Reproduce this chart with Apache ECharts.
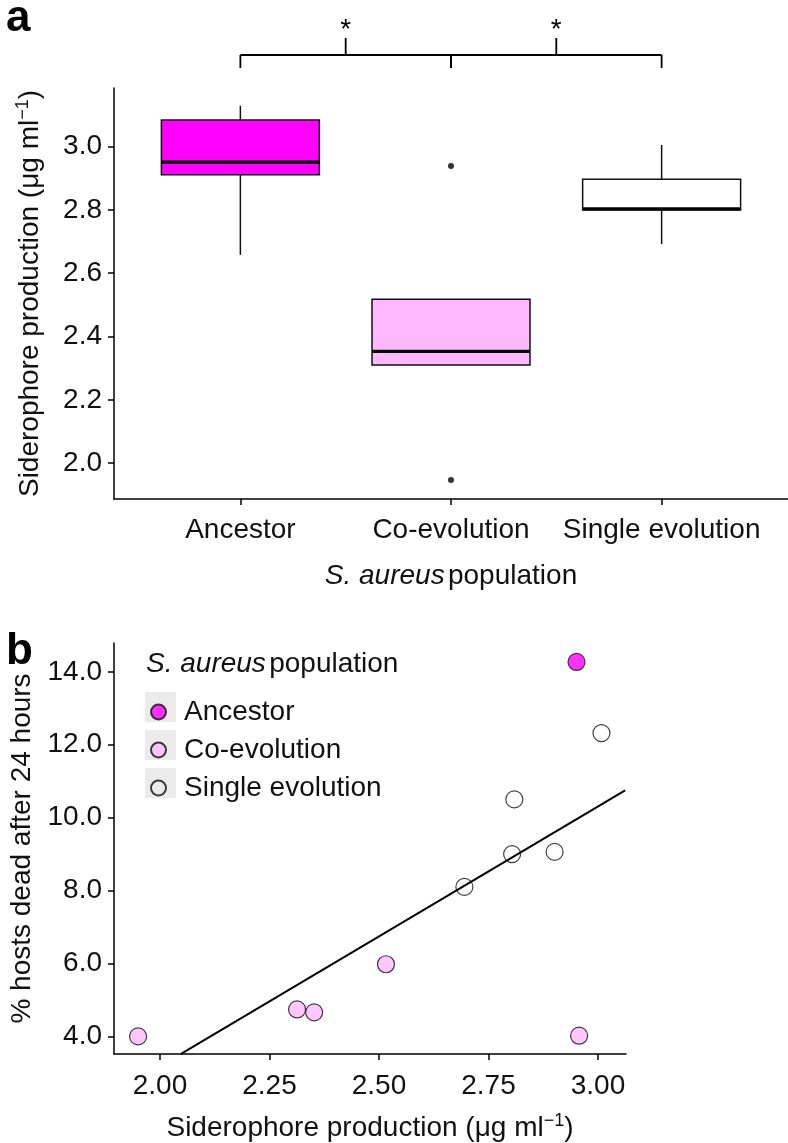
<!DOCTYPE html>
<html>
<head>
<meta charset="utf-8">
<script src="https://cdn.jsdelivr.net/npm/echarts@6/dist/echarts.min.js"></script>
<style>
html,body{margin:0;padding:0;background:#fff;}
#main{width:788px;height:1143px;}
</style>
</head>
<body>
<div id="main"></div>
<script>
// ---------- Panel a data ----------
const categories = ['Ancestor', 'Co-evolution', 'Single evolution'];
const boxLow    = [2.658, 2.310, 2.692];
const boxQ1     = [2.911, 2.310, 2.800];
const boxMedian = [2.951, 2.353, 2.803];
const boxQ3     = [3.084, 2.518, 2.897];
const boxHigh   = [3.129, 2.518, 3.005];
const boxFill   = ['#ff00ff', '#ffb8ff', '#ffffff'];
const outlierCategory = ['Co-evolution', 'Co-evolution'];
const outlierValues   = [2.939, 1.947];
const yTicksA = [2.0, 2.2, 2.4, 2.6, 2.8, 3.0];
const comparisons = [['Ancestor', 'Co-evolution'], ['Co-evolution', 'Single evolution']];
const comparisonLabels = ['*', '*'];

// ---------- Panel b data ----------
const ancestorX = [2.951];
const ancestorY = [14.27];
const coevoX = [1.950, 2.313, 2.352, 2.516, 2.957];
const coevoY = [4.00, 4.74, 4.66, 5.98, 4.02];
const singleX = [2.695, 2.804, 2.809, 2.901, 3.008];
const singleY = [8.10, 9.00, 10.50, 9.06, 12.32];
const fitX = [2.048, 3.062];
const fitY = [3.52, 10.75];
const xTicksB = [2.00, 2.25, 2.50, 2.75, 3.00];
const yTicksB = [4, 6, 8, 10, 12, 14];
const legendNames = ['Ancestor', 'Co-evolution', 'Single evolution'];

const FONT = '"Liberation Sans", Arial, Helvetica, sans-serif';
const INK = '#111';
const catPos = c => categories.indexOf(c) + 1;

const boxData = categories.map((c, i) => [i + 1, boxLow[i], boxQ1[i], boxMedian[i], boxQ3[i], boxHigh[i], i]);
const outlierData = outlierCategory.map((c, i) => [catPos(c), outlierValues[i]]);
const zip = (xs, ys) => xs.map((x, i) => [x, ys[i]]);

const axisLineStyle = { color: '#000', width: 1.5 };
const labelStyle = { fontFamily: FONT, fontSize: 28, color: INK };

const chart = echarts.init(document.getElementById('main'), null, { renderer: 'canvas' });

const option = {
  backgroundColor: '#fff',
  animation: false,
  textStyle: { fontFamily: FONT },
  grid: [
    { left: 114, top: 88, width: 674, height: 411 },
    { left: 114, top: 643, width: 512, height: 411 }
  ],
  xAxis: [
    {
      gridIndex: 0, type: 'value', min: 0.4, max: 3.6,
      axisLine: { show: true, lineStyle: axisLineStyle },
      axisTick: { show: true, customValues: [1, 2, 3], length: 6, lineStyle: axisLineStyle },
      axisLabel: Object.assign({ customValues: [1, 2, 3], margin: 17,
        formatter: v => categories[Math.round(v) - 1] || '' }, labelStyle),
      splitLine: { show: false },
      name: '{i|S. aureus} {n|population}',
      nameLocation: 'middle', nameGap: 63,
      nameTextStyle: { rich: {
        i: { fontFamily: FONT, fontSize: 28, fontStyle: 'italic', color: INK },
        n: { fontFamily: FONT, fontSize: 28, color: INK } } }
    },
    {
      gridIndex: 1, type: 'value', min: 1.895, max: 3.064,
      axisLine: { show: true, lineStyle: axisLineStyle },
      axisTick: { show: true, customValues: xTicksB, length: 6, lineStyle: axisLineStyle },
      axisLabel: Object.assign({ customValues: xTicksB, margin: 18,
        formatter: v => v.toFixed(2) }, labelStyle),
      splitLine: { show: false },
      name: '{a|Siderophore production (μg ml}{s|−1}{a|)}',
      nameLocation: 'middle', nameGap: 58,
      nameTextStyle: { rich: {
        a: { fontFamily: FONT, fontSize: 28, color: INK, lineHeight: 32 },
        s: { fontFamily: FONT, fontSize: 18, color: INK, verticalAlign: 'top', lineHeight: 32 } } }
    }
  ],
  yAxis: [
    {
      gridIndex: 0, type: 'value', min: 1.887, max: 3.185,
      axisLine: { show: true, lineStyle: axisLineStyle },
      axisTick: { show: true, customValues: yTicksA, length: 6, lineStyle: axisLineStyle },
      axisLabel: Object.assign({ customValues: yTicksA, margin: 12,
        formatter: v => v.toFixed(1) }, labelStyle),
      splitLine: { show: false },
      name: '{a|Siderophore production (μg ml}{s|−1}{a|)}',
      nameLocation: 'middle', nameRotate: 90, nameGap: 68,
      nameTextStyle: { rich: {
        a: { fontFamily: FONT, fontSize: 28, color: INK, lineHeight: 32 },
        s: { fontFamily: FONT, fontSize: 18, color: INK, verticalAlign: 'top', lineHeight: 32 } } }
    },
    {
      gridIndex: 1, type: 'value', min: 3.518, max: 14.79,
      axisLine: { show: true, lineStyle: axisLineStyle },
      axisTick: { show: true, customValues: yTicksB, length: 6, lineStyle: axisLineStyle },
      axisLabel: Object.assign({ customValues: yTicksB, margin: 12,
        formatter: v => v.toFixed(1) }, labelStyle),
      splitLine: { show: false },
      name: '% hosts dead after 24 hours',
      nameLocation: 'middle', nameRotate: 90, nameGap: 68,
      nameTextStyle: { fontFamily: FONT, fontSize: 28, color: INK }
    }
  ],
  legend: {
    data: legendNames,
    orient: 'vertical',
    left: 145, top: 693,
    itemWidth: 31, itemHeight: 15, itemGap: 10,
    icon: 'circle',
    textStyle: { fontFamily: FONT, fontSize: 28, color: INK, lineHeight: 28, padding: [0, 0, 0, 5] },
    selectedMode: false
  },
  graphic: [
    { type: 'text', left: 6, top: -3, style: { text: 'a', font: 'bold 44px ' + FONT, fill: '#000' } },
    { type: 'text', left: 6, top: 630, style: { text: 'b', font: 'bold 44px ' + FONT, fill: '#000' } },
    { type: 'text', left: 146, top: 650, style: {
        text: '{i|S. aureus} {n|population}',
        rich: { i: { fontFamily: FONT, fontSize: 28, fontStyle: 'italic', fill: INK },
                n: { fontFamily: FONT, fontSize: 28, fill: INK } } } },
    { type: 'rect', z: -1, shape: { x: 145, y: 692, width: 31, height: 30 }, style: { fill: '#ebebeb' } },
    { type: 'rect', z: -1, shape: { x: 145, y: 730, width: 31, height: 30 }, style: { fill: '#ebebeb' } },
    { type: 'rect', z: -1, shape: { x: 145, y: 768, width: 31, height: 30 }, style: { fill: '#ebebeb' } }
  ],
  series: [
    {
      type: 'custom', name: 'box', xAxisIndex: 0, yAxisIndex: 0,
      data: boxData,
      encode: { x: 0, y: [1, 2, 3, 4, 5] },
      renderItem: function (params, api) {
        const x = api.value(0);
        const half = api.size([0.375, 0])[0];
        const pLow = api.coord([x, api.value(1)]);
        const pQ1 = api.coord([x, api.value(2)]);
        const pMed = api.coord([x, api.value(3)]);
        const pQ3 = api.coord([x, api.value(4)]);
        const pHigh = api.coord([x, api.value(5)]);
        const fill = boxFill[api.value(6)];
        const stroke = { stroke: '#111', lineWidth: 1.5 };
        return {
          type: 'group',
          children: [
            { type: 'line', shape: { x1: pLow[0], y1: pLow[1], x2: pQ1[0], y2: pQ1[1] }, style: stroke },
            { type: 'line', shape: { x1: pQ3[0], y1: pQ3[1], x2: pHigh[0], y2: pHigh[1] }, style: stroke },
            { type: 'rect', shape: { x: pQ3[0] - half, y: pQ3[1], width: half * 2, height: pQ1[1] - pQ3[1] },
              style: { fill: fill, stroke: '#111', lineWidth: 1.5 } },
            { type: 'line', shape: { x1: pMed[0] - half, y1: pMed[1], x2: pMed[0] + half, y2: pMed[1] },
              style: { stroke: '#000', lineWidth: 3.2 } }
          ]
        };
      }
    },
    {
      type: 'scatter', name: 'outliers', xAxisIndex: 0, yAxisIndex: 0,
      data: outlierData, symbolSize: 6, itemStyle: { color: '#000' }
    },
    {
      type: 'custom', name: 'brackets', xAxisIndex: 0, yAxisIndex: 0, clip: false,
      data: [[2, 3.0]],
      renderItem: function (params, api) {
        const gridTop = api.coord([1, 3.185])[1];
        const yBar = gridTop - 33, yTickEnd = gridTop - 20, yStem = gridTop - 50, yStar = gridTop - 44;
        const children = [];
        const st = { stroke: '#000', lineWidth: 1.8 };
        comparisons.forEach((cmp, i) => {
          const x1 = api.coord([catPos(cmp[0]), 3])[0];
          const x2 = api.coord([catPos(cmp[1]), 3])[0];
          const xm = (x1 + x2) / 2;
          children.push({ type: 'line', shape: { x1: x1, y1: yBar, x2: x2, y2: yBar }, style: st });
          children.push({ type: 'line', shape: { x1: x1, y1: yBar, x2: x1, y2: yTickEnd }, style: st });
          children.push({ type: 'line', shape: { x1: x2, y1: yBar, x2: x2, y2: yTickEnd }, style: st });
          children.push({ type: 'line', shape: { x1: xm, y1: yBar, x2: xm, y2: yStem }, style: st });
          children.push({ type: 'text', style: { text: comparisonLabels[i], x: xm, y: yStar,
            align: 'center', verticalAlign: 'bottom', font: '28px ' + FONT, fill: '#000' } });
        });
        return { type: 'group', children: children };
      }
    },
    {
      type: 'line', name: 'fit', xAxisIndex: 1, yAxisIndex: 1,
      data: zip(fitX, fitY), showSymbol: false, symbol: 'none', clip: true,
      lineStyle: { color: '#000', width: 2 }, z: 1
    },
    {
      type: 'scatter', name: 'Ancestor', xAxisIndex: 1, yAxisIndex: 1,
      data: zip(ancestorX, ancestorY), symbolSize: 17, z: 3,
      itemStyle: { color: '#ff00ff', borderColor: '#111', borderWidth: 1.2 }
    },
    {
      type: 'scatter', name: 'Co-evolution', xAxisIndex: 1, yAxisIndex: 1,
      data: zip(coevoX, coevoY), symbolSize: 17, z: 3,
      itemStyle: { color: '#ffb8ff', borderColor: '#111', borderWidth: 1.2 }
    },
    {
      type: 'scatter', name: 'Single evolution', xAxisIndex: 1, yAxisIndex: 1,
      data: zip(singleX, singleY), symbolSize: 17, z: 3,
      itemStyle: { color: 'rgba(255,255,255,0)', borderColor: '#111', borderWidth: 1.2 }
    }
  ]
};
chart.setOption(option);
</script>
</body>
</html>
